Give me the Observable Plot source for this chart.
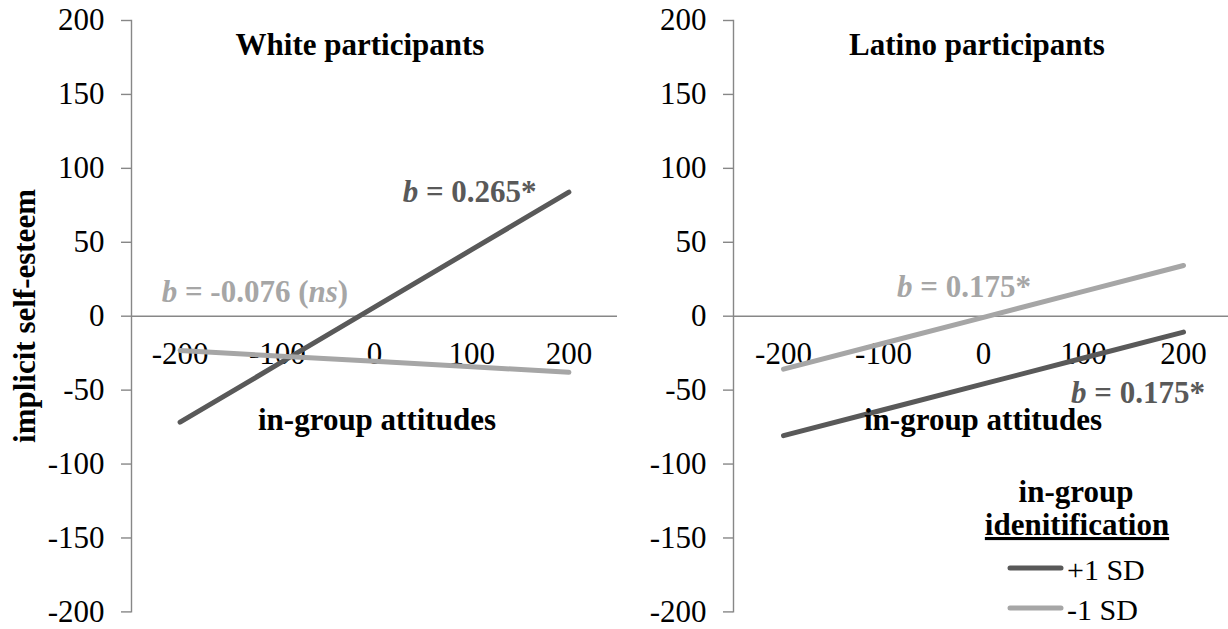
<!DOCTYPE html>
<html>
<head>
<meta charset="utf-8">
<script src="https://cdn.jsdelivr.net/npm/d3@7"></script>
<script src="https://cdn.jsdelivr.net/npm/@observablehq/plot@0.6"></script>
<style>
  html, body { margin: 0; padding: 0; background: #fff; overflow: hidden; }
  #chart { position: relative; width: 1228px; height: 629px; overflow: hidden; }
  #chart > svg { position: absolute; top: 0; overflow: visible; }
</style>
</head>
<body>
<div id="chart"></div>
<script>
// In-group attitudes (x) against implicit self-esteem (y), at +/-1 SD of in-group identification
const categories = [-200, -100, 0, 100, 200];
const yTicks = [-200, -150, -100, -50, 0, 50, 100, 150, 200];
const seriesNames = ["+1 SD", "-1 SD"];
const seriesColors = ["#595959", "#a6a6a6"];

const whiteHigh = [-71.7, -32.8, 6.1, 45.0, 83.9];
const whiteLow = [-23.2, -26.9, -30.5, -34.2, -37.9];
const latinoHigh = [-80.8, -63.3, -45.8, -28.3, -10.8];
const latinoLow = [-35.8, -18.3, -0.8, 16.8, 34.3];

const panelTitles = ["White participants", "Latino participants"];
const xTitle = "in-group attitudes";
const yTitle = "implicit self-esteem";
const legendTitle = ["in-group", "idenitification"];

const serif = "Liberation Serif";
const axisGray = "#878787";

function tidy(high, low) {
  return [
    ...categories.map((c, i) => ({x: c, y: high[i], series: seriesNames[0]})),
    ...categories.map((c, i) => ({x: c, y: low[i], series: seriesNames[1]}))
  ];
}

function panel({data, width, marginRight, xRange}) {
  return Plot.plot({
    width, height: 629,
    marginLeft: 131, marginRight, marginTop: 20, marginBottom: 17.6,
    x: {domain: [-250, 250], range: xRange, axis: null},
    y: {domain: [-200, 200], range: [611.4, 20], axis: null},
    color: {domain: seriesNames, range: seriesColors},
    style: {fontFamily: serif, fontSize: "31px", color: "black", background: "transparent", overflow: "visible"},
    marks: [
      Plot.frame({anchor: "left", stroke: axisGray, strokeWidth: 1.4}),
      Plot.axisY({ticks: yTicks, label: null, tickSize: 10, tickPadding: 17, tickFormat: d => String(d),
                  stroke: axisGray, strokeWidth: 1.4, fill: "black", fontSize: 31, fontFamily: serif}),
      Plot.ruleY([0], {stroke: axisGray, strokeWidth: 1.4}),
      Plot.text(categories, {x: d => d, y: 0, dy: 37.6, text: d => String(d), fontSize: 31, fontFamily: serif, fill: "black"}),
      Plot.line(data, {x: "x", y: "y", z: "series", stroke: "series", strokeWidth: 5, strokeLinecap: "round"})
    ]
  });
}

const chart = document.getElementById("chart");

const left = panel({data: tidy(whiteHigh, whiteLow), width: 620, marginRight: 3, xRange: [131, 617]});
left.style.left = "0px";
chart.appendChild(left);

const right = panel({data: tidy(latinoHigh, latinoLow), width: 626, marginRight: 0, xRange: [131, 631]});
right.style.left = "602px";
chart.appendChild(right);

// Titles, slope annotations and legend
const svg = d3.select(chart).append("svg")
  .attr("width", 1228).attr("height", 629)
  .style("left", "0px")
  .attr("font-family", serif);

function label(x, y, parts, {size = 31, fill = "black", anchor = "start", bold = true} = {}) {
  const t = svg.append("text")
    .attr("x", x).attr("y", y)
    .attr("fill", fill)
    .attr("font-family", serif)
    .attr("font-size", size)
    .attr("font-weight", bold ? "bold" : "normal")
    .attr("text-anchor", anchor);
  for (const p of parts) {
    const s = t.append("tspan").text(p.text);
    if (p.italic) s.attr("font-style", "italic");
  }
  return t;
}

label(360, 55, [{text: panelTitles[0]}], {anchor: "middle"});
label(977, 55, [{text: panelTitles[1]}], {anchor: "middle"});
label(377, 430, [{text: xTitle}], {anchor: "middle"});
label(983, 430, [{text: xTitle}], {anchor: "middle"});
label(0, 0, [{text: yTitle}], {anchor: "middle"})
  .attr("transform", "translate(35,316) rotate(-90)");

label(402.7, 201.7, [{text: "b", italic: true}, {text: " = 0.265*"}], {fill: seriesColors[0]});
label(161.7, 301.7, [{text: "b", italic: true}, {text: " = -0.076 ("}, {text: "ns", italic: true}, {text: ")"}], {fill: seriesColors[1]});
label(897, 296.7, [{text: "b", italic: true}, {text: " = 0.175*"}], {fill: seriesColors[1]});
label(1071, 402.7, [{text: "b", italic: true}, {text: " = 0.175*"}], {fill: seriesColors[0]});

label(1076, 501.7, [{text: legendTitle[0]}], {anchor: "middle"});
label(1077, 535, [{text: legendTitle[1]}], {anchor: "middle"})
  .attr("text-decoration", "underline");

seriesNames.forEach((name, i) => {
  const y = 568 + i * 40;
  svg.append("line")
    .attr("x1", 1010).attr("x2", 1061).attr("y1", y).attr("y2", y)
    .attr("stroke", seriesColors[i]).attr("stroke-width", 5).attr("stroke-linecap", "round");
  label(1067, y + 12, [{text: name}], {size: 30, bold: false});
});
</script>
</body>
</html>
